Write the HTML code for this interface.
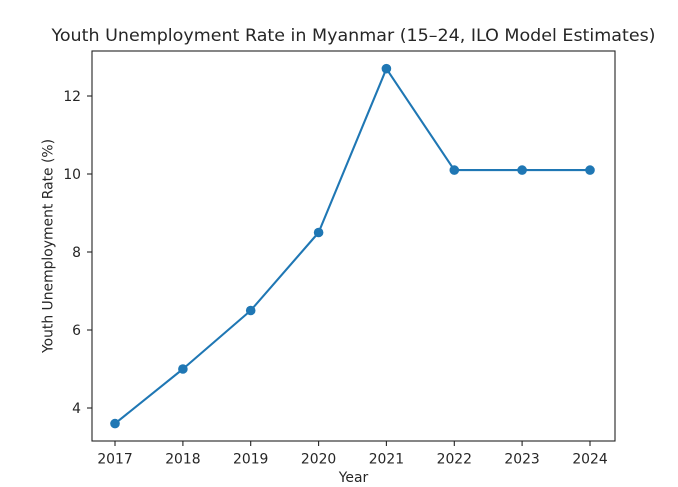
<!DOCTYPE html>
<html><head><meta charset="utf-8"><style>
html,body{margin:0;padding:0;background:#fff;}
svg{display:block;}
text{font-family:"DejaVu Sans","Liberation Sans",sans-serif;fill:#262626;}
</style></head><body>
<svg width="678" height="487" viewBox="0 0 678 487" xmlns="http://www.w3.org/2000/svg">
<rect width="678" height="487" fill="#fff"/>
<text x="353.5" y="41" font-size="16.7" text-anchor="middle" textLength="604" lengthAdjust="spacingAndGlyphs">Youth Unemployment Rate in Myanmar (15–24, ILO Model Estimates)</text>
<g stroke="#222" stroke-width="1.1" fill="none">
<rect x="92" y="51" width="523" height="390"/>
<line x1="115" y1="441" x2="115" y2="446"/>
<line x1="182.9" y1="441" x2="182.9" y2="446"/>
<line x1="250.7" y1="441" x2="250.7" y2="446"/>
<line x1="318.6" y1="441" x2="318.6" y2="446"/>
<line x1="386.4" y1="441" x2="386.4" y2="446"/>
<line x1="454.3" y1="441" x2="454.3" y2="446"/>
<line x1="522.1" y1="441" x2="522.1" y2="446"/>
<line x1="590" y1="441" x2="590" y2="446"/>
<line x1="87" y1="408" x2="92" y2="408"/>
<line x1="87" y1="330" x2="92" y2="330"/>
<line x1="87" y1="252" x2="92" y2="252"/>
<line x1="87" y1="174" x2="92" y2="174"/>
<line x1="87" y1="96" x2="92" y2="96"/>
</g>
<g font-size="13.9" text-anchor="middle">
<text x="115" y="463.5">2017</text>
<text x="182.9" y="463.5">2018</text>
<text x="250.7" y="463.5">2019</text>
<text x="318.6" y="463.5">2020</text>
<text x="386.4" y="463.5">2021</text>
<text x="454.3" y="463.5">2022</text>
<text x="522.1" y="463.5">2023</text>
<text x="590" y="463.5">2024</text>
</g>
<g font-size="13.9" text-anchor="end">
<text x="81" y="413">4</text>
<text x="81" y="335">6</text>
<text x="81" y="257">8</text>
<text x="81" y="179">10</text>
<text x="81" y="101">12</text>
</g>
<text x="353.5" y="482" font-size="13.9" text-anchor="middle">Year</text>
<text transform="translate(52.5,246) rotate(-90)" font-size="13.9" text-anchor="middle">Youth Unemployment Rate (%)</text>
<polyline fill="none" stroke="#1f77b4" stroke-width="2.1" stroke-linejoin="round" points="115,423.6 182.9,369 250.7,310.5 318.6,232.5 386.4,68.7 454.3,170.1 522.1,170.1 590,170.1"/>
<g fill="#1f77b4">
<circle cx="115" cy="423.6" r="4.8"/>
<circle cx="182.9" cy="369" r="4.8"/>
<circle cx="250.7" cy="310.5" r="4.8"/>
<circle cx="318.6" cy="232.5" r="4.8"/>
<circle cx="386.4" cy="68.7" r="4.8"/>
<circle cx="454.3" cy="170.1" r="4.8"/>
<circle cx="522.1" cy="170.1" r="4.8"/>
<circle cx="590" cy="170.1" r="4.8"/>
</g>
</svg>
</body></html>
